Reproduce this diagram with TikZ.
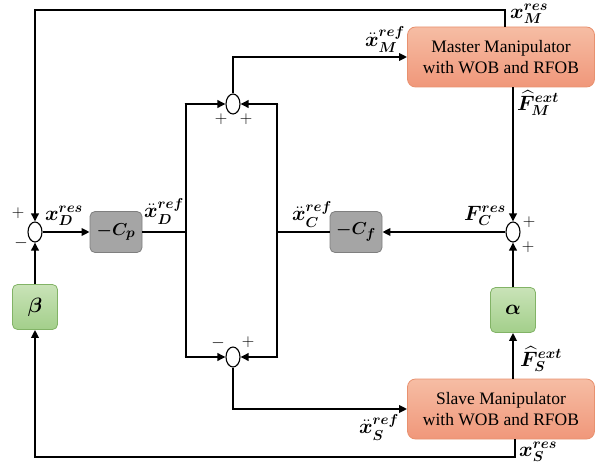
\documentclass[tikz,border=0pt]{standalone}
\usepackage{amsmath,bm}
\usepackage{fontspec}
\setmainfont{Liberation Serif}
\usetikzlibrary{shapes.geometric,arrows.meta}
\definecolor{salmonT}{HTML}{F6BDA4}
\definecolor{salmonB}{HTML}{F0977A}
\definecolor{salmonD}{HTML}{E8916F}
\definecolor{grayF}{HTML}{A5A5A5}
\definecolor{grayD}{HTML}{7F7F7F}
\definecolor{greenT}{HTML}{C9E3B8}
\definecolor{greenB}{HTML}{A3CF8A}
\definecolor{greenD}{HTML}{82B366}
\tikzset{
  wire/.style={line width=2.8pt},
  arr/.style={wire,-{Triangle[length=8pt,width=7.5pt]}},
  sumj/.style={ellipse,draw,line width=1.1pt,fill=white,minimum width=14pt,minimum height=20pt,inner sep=0pt},
  graybox/.style={rounded corners=5pt,draw=grayD,line width=0.8pt,fill=grayF,minimum width=52pt,minimum height=41pt,font=\fontsize{19}{22}\selectfont},
  greenbox/.style={rounded corners=5pt,draw=greenD,line width=0.8pt,top color=greenT,bottom color=greenB,minimum width=45pt,minimum height=45pt,font=\fontsize{20}{24}\selectfont},
  manbox/.style={rounded corners=8pt,draw=salmonD,line width=0.8pt,top color=salmonT,bottom color=salmonB,minimum width=187pt,minimum height=60pt,align=center,font=\fontsize{17.5}{21}\selectfont},
  lbl/.style={font=\fontsize{20}{23}\selectfont,inner sep=0pt},
  sgn/.style={font=\fontsize{16}{18}\selectfont,inner sep=0pt}
}
\begin{document}
\begin{tikzpicture}[x=1pt,y=-1pt]
\useasboundingbox (0,0) rectangle (596,468);
% nodes
\node[sumj] (jD) at (35,232) {};
\node[sumj] (jT) at (233,104) {};
\node[sumj] (jB) at (233,357) {};
\node[sumj] (jR) at (513,232) {};
\node[graybox] (cp) at (116,232) {$\bm{-C_p}$};
\node[graybox] (cf) at (356,232) {$\bm{-C_f}$};
\node[greenbox] (beta) at (35,307) {$\bm{\beta}$};
\node[greenbox] (alpha) at (513,310) {$\bm{\alpha}$};
\node[manbox] (master) at (501,57) {Master Manipulator\\with WOB and RFOB};
\node[manbox] (slave) at (501,409) {Slave Manipulator\\with WOB and RFOB};
% coordinates
\coordinate (tl) at (35,10);
\coordinate (tr) at (505,10);
\coordinate (bl) at (35,457);
\coordinate (br) at (515,457);
\coordinate (lv) at (186,232);
\coordinate (rv) at (277,232);
% wires
\draw[arr,line join=miter] (master.north -| tr) -- (tr) -- (tl) -- (jD.north);
\draw[arr] (jD.east) -- (cp.west);
\draw[wire] (cp.east) -- (lv);
\draw[wire,line join=miter] (lv |- jT) ++(-1.4,0) -- (lv |- jT) -- (lv |- jB) -- ++(-1.4,0);
\draw[arr] (lv |- jT) ++(-1.4,0) -- (jT.west);
\draw[arr] (lv |- jB) ++(-1.4,0) -- (jB.west);
\draw[wire] (cf.west) -- (rv);
\draw[wire,line join=miter] (rv |- jT) ++(1.4,0) -- (rv |- jT) -- (rv |- jB) -- ++(1.4,0);
\draw[arr] (rv |- jT) ++(1.4,0) -- (jT.east);
\draw[arr] (rv |- jB) ++(1.4,0) -- (jB.east);
\draw[arr,line join=miter] (jT.north) -- (jT |- master.west) -- (master.west);
\draw[arr,line join=miter] (jB.south) -- (jB |- slave.west) -- (slave.west);
\draw[arr] (master.south -| jR) -- (jR.north);
\draw[arr] (jR.west) -- (cf.east);
\draw[arr] (alpha.north) -- (jR.south);
\draw[arr] (slave.north -| alpha) -- (alpha.south);
\draw[arr] (beta.north) -- (jD.south);
\draw[arr,line join=miter] (slave.south -| br) -- (br) -- (bl) -- (beta.south);
% labels
\node[lbl] at (64,216) {$\bm{x_D^{res}}$};
\node[lbl] at (164,211) {$\bm{\ddot{x}_D^{ref}}$};
\node[lbl] at (312,214) {$\bm{\ddot{x}_C^{ref}}$};
\node[lbl] at (485,216) {$\bm{F_C^{res}}$};
\node[lbl] at (385,40) {$\bm{\ddot{x}_M^{ref}}$};
\node[lbl,anchor=west] at (510,14) {$\bm{x_M^{res}}$};
\node[lbl,anchor=west] at (517,103) {$\bm{\widehat{F}_M^{ext}}$};
\node[lbl,anchor=west] at (520,359) {$\bm{\widehat{F}_S^{ext}}$};
\node[lbl] at (379,427) {$\bm{\ddot{x}_S^{ref}}$};
\node[lbl,anchor=west] at (519,452) {$\bm{x_S^{res}}$};
% signs
\node[sgn] at (18,213) {$+$};
\node[sgn] at (21,243) {$-$};
\node[sgn] at (221,119) {$+$};
\node[sgn] at (246,119) {$+$};
\node[sgn] at (218,343) {$-$};
\node[sgn] at (248,342) {$+$};
\node[sgn] at (529,222) {$+$};
\node[sgn] at (528,247) {$+$};
\end{tikzpicture}
\end{document}
